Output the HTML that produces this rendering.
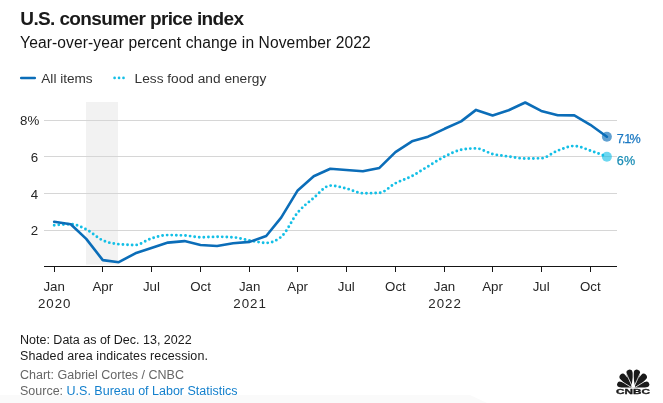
<!DOCTYPE html>
<html><head><meta charset="utf-8"><style>
html,body{margin:0;padding:0;background:#fff;}
body{width:663px;height:403px;overflow:hidden;position:relative;}
svg{position:absolute;left:0;top:0;display:block;will-change:transform;}
text{font-family:"Liberation Sans",Arial,sans-serif;}
</style></head><body>
<svg width="663" height="403" viewBox="0 0 663 403">
<polygon points="0,395 470,395 487,403 0,403" fill="#fafafa"/>
<text x="20.3" y="25.1" font-size="19" font-weight="700" fill="#1a1a1a" letter-spacing="-0.62">U.S. consumer price index</text>
<text x="20.1" y="47.8" font-size="15.6" fill="#141414" letter-spacing="0.1">Year-over-year percent change in November 2022</text>
<line x1="21.2" y1="77.9" x2="34.8" y2="77.9" stroke="#0b6db8" stroke-width="2.5" stroke-linecap="round"/>
<text x="41.3" y="82.8" font-size="13.6" fill="#333">All items</text>
<line x1="114.6" y1="77.9" x2="124" y2="77.9" stroke="#14bfe6" stroke-width="2.7" stroke-linecap="round" stroke-dasharray="0 4.45"/>
<text x="134.6" y="82.9" font-size="13.7" fill="#333">Less food and energy</text>
<rect x="86" y="102" width="32" height="162.6" fill="#f2f2f2"/>
<g stroke="#d6d6d6" stroke-width="1" shape-rendering="crispEdges"><line x1="44" y1="120.5" x2="617" y2="120.5"/><line x1="44" y1="156.5" x2="617" y2="156.5"/><line x1="44" y1="193.5" x2="617" y2="193.5"/><line x1="44" y1="230.5" x2="617" y2="230.5"/></g>
<g font-size="13.3" fill="#262626" text-anchor="end"><text x="19.9 27.4" y="125.1" text-anchor="start">8%</text><text x="38.2" y="161.8">6</text><text x="38.2" y="198.6">4</text><text x="38.2" y="235">2</text></g>
<g stroke="#151515" stroke-width="1" shape-rendering="crispEdges"><line x1="44" y1="266.5" x2="617" y2="266.5"/><line x1="54.5" y1="267" x2="54.5" y2="272"/><line x1="102.5" y1="267" x2="102.5" y2="272"/><line x1="151.5" y1="267" x2="151.5" y2="272"/><line x1="200.5" y1="267" x2="200.5" y2="272"/><line x1="249.5" y1="267" x2="249.5" y2="272"/><line x1="297.5" y1="267" x2="297.5" y2="272"/><line x1="346.5" y1="267" x2="346.5" y2="272"/><line x1="395.5" y1="267" x2="395.5" y2="272"/><line x1="444.5" y1="267" x2="444.5" y2="272"/><line x1="492.5" y1="267" x2="492.5" y2="272"/><line x1="541.5" y1="267" x2="541.5" y2="272"/><line x1="590.5" y1="267" x2="590.5" y2="272"/></g>
<g font-size="13.3" fill="#262626" text-anchor="middle"><text x="54.20" y="290.9">Jan</text><text x="54.70" y="307.6" letter-spacing="1">2020</text><text x="102.79" y="290.9">Apr</text><text x="151.39" y="290.9">Jul</text><text x="200.52" y="290.9">Oct</text><text x="249.64" y="290.9">Jan</text><text x="250.14" y="307.6" letter-spacing="1">2021</text><text x="297.70" y="290.9">Apr</text><text x="346.30" y="290.9">Jul</text><text x="395.43" y="290.9">Oct</text><text x="444.55" y="290.9">Jan</text><text x="445.05" y="307.6" letter-spacing="1">2022</text><text x="492.61" y="290.9">Apr</text><text x="541.21" y="290.9">Jul</text><text x="590.34" y="290.9">Oct</text></g>
<path d="M54.20,225.30 C59.72,224.75 65.24,224.20 70.75,224.20 C75.92,224.20 81.08,226.85 86.24,229.40 C91.76,232.13 97.28,237.93 102.79,240.40 C108.13,242.79 113.47,243.68 118.81,244.20 C124.33,244.73 129.85,245.00 135.37,245.00 C140.71,245.00 146.05,240.04 151.39,238.40 C156.91,236.70 162.42,235.10 167.94,235.10 C173.46,235.10 178.98,235.23 184.50,235.50 C189.84,235.76 195.18,237.30 200.52,237.30 C206.03,237.30 211.55,236.80 217.07,236.80 C222.41,236.80 227.75,236.97 233.09,237.30 C238.61,237.64 244.13,239.47 249.64,240.40 C255.16,241.33 260.68,242.90 266.20,242.90 C271.18,242.90 276.17,240.90 281.15,236.90 C286.67,232.47 292.19,219.14 297.70,212.60 C303.04,206.27 308.38,202.44 313.72,198.00 C319.24,193.41 324.76,185.60 330.28,185.60 C335.62,185.60 340.96,187.26 346.30,188.50 C351.82,189.78 357.33,193.20 362.85,193.20 C368.37,193.20 373.89,193.10 379.41,192.90 C384.75,192.71 390.09,186.08 395.43,183.30 C400.94,180.42 406.46,178.88 411.98,176.00 C417.32,173.22 422.66,169.58 428.00,166.40 C433.52,163.11 439.04,159.37 444.55,156.60 C450.07,153.83 455.59,150.83 461.11,149.80 C466.09,148.87 471.08,148.40 476.06,148.40 C481.58,148.40 487.10,152.64 492.61,154.00 C497.95,155.31 503.29,155.76 508.63,156.50 C514.15,157.27 519.67,158.50 525.19,158.50 C530.53,158.50 535.87,158.43 541.21,158.30 C546.73,158.16 552.24,152.65 557.76,150.60 C563.28,148.55 568.80,146.00 574.32,146.00 C579.66,146.00 585.00,148.84 590.34,150.60 C595.85,152.42 601.37,154.61 606.89,156.80" fill="none" stroke="#14bfe6" stroke-width="2.9" stroke-linecap="round" stroke-dasharray="0 4.6"/>
<path d="M54.20,221.80 L70.75,224.30 L86.24,238.90 L102.79,260.10 L118.81,262.20 L135.37,253.30 L151.39,247.90 L167.94,242.60 L184.50,241.10 L200.52,245.00 L217.07,246.00 L233.09,243.30 L249.64,241.90 L266.20,236.00 L281.15,217.60 L297.70,190.40 L313.72,176.30 L330.28,168.80 L346.30,170.00 L362.85,171.20 L379.41,167.90 L395.43,152.10 L411.98,141.30 L428.00,136.70 L444.55,128.80 L461.11,121.40 L476.06,109.90 L492.61,115.40 L508.63,110.30 L525.19,102.50 L541.21,110.90 L557.76,115.20 L574.32,115.40 L590.34,124.80 L606.89,136.70" fill="none" stroke="#0b6db8" stroke-width="2.6" stroke-linejoin="round" stroke-linecap="round"/>
<circle cx="606.89" cy="136.70" r="5" fill="#0b6db8" fill-opacity="0.65"/>
<circle cx="606.89" cy="156.80" r="5" fill="#14bfe6" fill-opacity="0.62"/>
<text x="616.7 622.1 624.3 629.6" y="143.4" font-size="12.6" fill="#1a78c2" stroke="#1a78c2" stroke-width="0.25">7.1%</text>
<text x="616.7" y="165.4" font-size="12.6" fill="#1a8db5" stroke="#1a8db5" stroke-width="0.25" letter-spacing="0.3">6%</text>
<g font-size="12.5">
<text x="20" y="343.9" fill="#1a1a1a">Note: Data as of Dec. 13, 2022</text>
<text x="20" y="360.2" fill="#1a1a1a" letter-spacing="0.1">Shaded area indicates recession.</text>
<text x="20" y="379" fill="#666">Chart: Gabriel Cortes / CNBC</text>
<text x="20" y="394.8" fill="#666">Source: <tspan fill="#127fcc">U.S. Bureau of Labor Statistics</tspan></text>
</g>
<defs><clipPath id="lc"><rect x="600" y="360" width="60" height="27.6"/></clipPath></defs>
<g clip-path="url(#lc)"><g fill="#1a1a1a"><path transform="translate(633.2,388.6) rotate(-73)" d="M-0.00,0 L-2.81,-9.86 Q-2.90,-11.78 -2.90,-13.70 A2.90,3.04 0 0 1 2.90,-13.70 Q2.90,-11.78 2.81,-9.86 L0.00,0 Z"/><path transform="translate(633.2,388.6) rotate(73)" d="M-0.00,0 L-2.81,-9.86 Q-2.90,-11.78 -2.90,-13.70 A2.90,3.04 0 0 1 2.90,-13.70 Q2.90,-11.78 2.81,-9.86 L0.00,0 Z"/><path transform="translate(633.2,388.6) rotate(-42)" d="M-0.00,0 L-3.10,-11.16 Q-3.20,-13.33 -3.20,-15.50 A3.20,3.36 0 0 1 3.20,-15.50 Q3.20,-13.33 3.10,-11.16 L0.00,0 Z"/><path transform="translate(633.2,388.6) rotate(42)" d="M-0.00,0 L-3.10,-11.16 Q-3.20,-13.33 -3.20,-15.50 A3.20,3.36 0 0 1 3.20,-15.50 Q3.20,-13.33 3.10,-11.16 L0.00,0 Z"/><path transform="translate(633.2,388.6) rotate(-13)" d="M-0.00,0 L-3.20,-11.52 Q-3.30,-13.76 -3.30,-16.00 A3.30,3.46 0 0 1 3.30,-16.00 Q3.30,-13.76 3.20,-11.52 L0.00,0 Z"/><path transform="translate(633.2,388.6) rotate(13)" d="M-0.00,0 L-3.20,-11.52 Q-3.30,-13.76 -3.30,-16.00 A3.30,3.46 0 0 1 3.30,-16.00 Q3.30,-13.76 3.20,-11.52 L0.00,0 Z"/></g><g stroke="#fff" stroke-width="0.75"><line x1="633.2" y1="388.6" x2="614.54" y2="376.94"/><line x1="633.2" y1="388.6" x2="624.08" y2="368.58"/><line x1="633.2" y1="388.6" x2="642.32" y2="368.58"/><line x1="633.2" y1="388.6" x2="651.86" y2="376.94"/><line x1="633.2" y1="388.6" x2="633.2" y2="366.6" stroke-width="1.1"/></g><path d="M633.2,376.6 C634.1,381.6 635.0,385.6 635.2,388.6 L631.2,388.6 C631.4000000000001,385.6 632.3000000000001,381.6 633.2,376.6 Z" fill="#fff"/></g>
<text x="616.1" y="394.4" font-size="7.2" font-weight="700" fill="#1a1a1a" stroke="#1a1a1a" stroke-width="0.3" textLength="33.9" lengthAdjust="spacingAndGlyphs">CNBC</text>
</svg>
</body></html>
